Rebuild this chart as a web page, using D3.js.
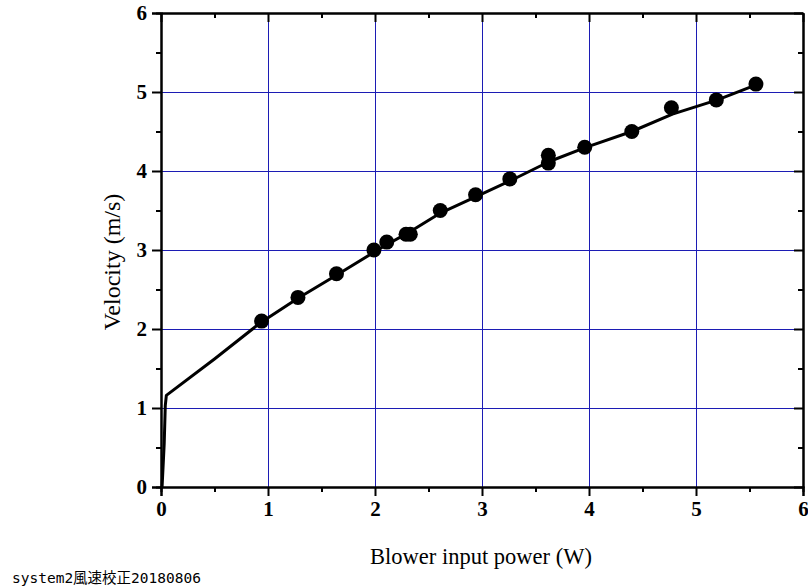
<!DOCTYPE html>
<html>
<head>
<meta charset="utf-8">
<script src="https://cdn.jsdelivr.net/npm/d3@7"></script>
<style>
  body { margin: 0; background: #fff; }
  svg { display: block; }
</style>
</head>
<body>
<div id="chart"></div>
<script>
// measured points
const powerW = [0.94, 1.28, 1.64, 1.99, 2.11, 2.29, 2.33, 2.61, 2.94, 3.26, 3.62, 3.62, 3.96, 4.40, 4.77, 5.19, 5.56];
const velocity = [2.1, 2.4, 2.7, 3.0, 3.1, 3.2, 3.2, 3.5, 3.7, 3.9, 4.2, 4.1, 4.3, 4.5, 4.8, 4.9, 5.1];

// fitted curve
const fitX = [0.01, 0.03, 0.04, 0.05, 0.5, 0.93, 1.28, 1.65, 2.0, 2.1, 2.3, 2.6, 2.95, 3.27, 3.63, 3.97, 4.4, 4.78, 5.2, 5.58];
const fitY = [0.0, 0.55, 1.03, 1.16, 1.62, 2.08, 2.39, 2.69, 2.98, 3.06, 3.21, 3.46, 3.68, 3.88, 4.12, 4.30, 4.50, 4.72, 4.90, 5.10];

const majorTicks = [0, 1, 2, 3, 4, 5, 6];
const minorTicks = [0.5, 1.5, 2.5, 3.5, 4.5, 5.5];

const width = 808, height = 588;
const margin = {top: 13, right: 5, bottom: 101, left: 161};

const svg = d3.select("#chart").append("svg")
  .attr("width", width)
  .attr("height", height);

const x = d3.scaleLinear().domain([0, 6]).range([margin.left, width - margin.right]);
const y = d3.scaleLinear().domain([0, 6]).range([height - margin.bottom, margin.top]);

// grid
const grid = svg.append("g")
  .attr("stroke", "#1c1cb4")
  .attr("stroke-width", 1)
  .attr("shape-rendering", "crispEdges");
grid.selectAll(".gx").data(majorTicks.slice(1, -1)).join("line")
  .attr("x1", d => x(d)).attr("x2", d => x(d))
  .attr("y1", y(0)).attr("y2", y(6));
grid.selectAll(".gy").data(majorTicks.slice(1, -1)).join("line")
  .attr("y1", d => y(d)).attr("y2", d => y(d))
  .attr("x1", x(0)).attr("x2", x(6));

// axes
function styleAxis(g) {
  g.select(".domain").attr("stroke-width", 2);
  g.selectAll(".tick line").attr("stroke-width", 2);
  g.selectAll("text")
    .attr("font-family", "'Liberation Serif', 'Times New Roman', serif")
    .attr("font-weight", "bold")
    .attr("font-size", 21)
    .attr("fill", "#000");
}

const base = y(0), leftX = x(0);

svg.append("g").attr("transform", `translate(0,${base})`)
  .call(d3.axisBottom(x).tickValues(majorTicks).tickFormat(d3.format("d")).tickSize(9).tickPadding(5))
  .call(styleAxis);
svg.append("g").attr("transform", `translate(0,${base})`)
  .call(d3.axisBottom(x).tickValues(minorTicks).tickFormat("").tickSize(5))
  .call(styleAxis);

svg.append("g").attr("transform", `translate(${leftX},0)`)
  .call(d3.axisLeft(y).tickValues(majorTicks).tickFormat(d3.format("d")).tickSize(9).tickPadding(5))
  .call(styleAxis);
svg.append("g").attr("transform", `translate(${leftX},0)`)
  .call(d3.axisLeft(y).tickValues(minorTicks).tickFormat("").tickSize(5))
  .call(styleAxis);

// top and right, inward ticks
svg.append("g").attr("transform", `translate(0,${y(6)})`)
  .call(d3.axisBottom(x).tickValues(majorTicks).tickFormat("").tickSizeInner(9).tickSizeOuter(0))
  .call(styleAxis);
svg.append("g").attr("transform", `translate(0,${y(6)})`)
  .call(d3.axisBottom(x).tickValues(minorTicks).tickFormat("").tickSizeInner(5).tickSizeOuter(0))
  .call(styleAxis);
svg.append("g").attr("transform", `translate(${x(6)},0)`)
  .call(d3.axisLeft(y).tickValues(majorTicks).tickFormat("").tickSizeInner(9).tickSizeOuter(0))
  .call(styleAxis);
svg.append("g").attr("transform", `translate(${x(6)},0)`)
  .call(d3.axisLeft(y).tickValues(minorTicks).tickFormat("").tickSizeInner(5).tickSizeOuter(0))
  .call(styleAxis);

// fitted line
const line = d3.line().x(d => x(d[0])).y(d => y(d[1]));
svg.append("path")
  .datum(d3.zip(fitX, fitY))
  .attr("fill", "none")
  .attr("stroke", "#000")
  .attr("stroke-width", 3)
  .attr("stroke-linejoin", "round")
  .attr("d", line);

// dots
svg.append("g").selectAll("circle")
  .data(d3.zip(powerW, velocity))
  .join("circle")
  .attr("cx", d => x(d[0]))
  .attr("cy", d => y(d[1]))
  .attr("r", 7.5)
  .attr("fill", "#000");

// axis titles
svg.append("text")
  .attr("x", 481)
  .attr("y", 564)
  .attr("text-anchor", "middle")
  .attr("font-family", "'Liberation Serif', 'Times New Roman', serif")
  .attr("font-size", 22.5)
  .text("Blower input power (W)");

svg.append("text")
  .attr("transform", "translate(120,262) rotate(-90)")
  .attr("text-anchor", "middle")
  .attr("font-family", "'Liberation Serif', 'Times New Roman', serif")
  .attr("font-size", 24)
  .text("Velocity (m/s)");

// file note
svg.append("text")
  .attr("x", 12)
  .attr("y", 583)
  .attr("font-family", "'DejaVu Sans Mono', 'Noto Sans CJK JP', monospace")
  .attr("font-size", 14.5)
  .text("system2風速校正20180806");
</script>
</body>
</html>
